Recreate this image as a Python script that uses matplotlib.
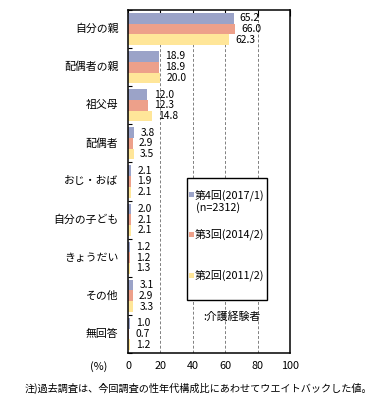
import matplotlib
matplotlib.use("Agg")
import matplotlib.pyplot as plt
from matplotlib.patches import Rectangle
import numpy as np

plt.rcParams['font.family'] = ['Noto Sans CJK JP', 'DejaVu Sans']

categories = ["自分の親", "配偶者の親", "祖父母", "配偶者", "おじ・おば",
              "自分の子ども", "きょうだい", "その他", "無回答"]
series_names = ["第4回(2017/1)", "第3回(2014/2)", "第2回(2011/2)"]
v2017 = [65.2, 18.9, 12.0, 3.8, 2.1, 2.0, 1.2, 3.1, 1.0]
v2014 = [66.0, 18.9, 12.3, 2.9, 1.9, 2.1, 1.2, 2.9, 0.7]
v2011 = [62.3, 20.0, 14.8, 3.5, 2.1, 2.1, 1.3, 3.3, 1.2]
xticks = [0, 20, 40, 60, 80, 100]
colors = ["#9BA3C8", "#EDA08A", "#FFE699"]

W, H = 372, 405
fig = plt.figure(figsize=(W / 100, H / 100), dpi=100)
ax = fig.add_axes([128 / W, 1 - 353 / H, 162 / W, 343 / H])

y = np.arange(len(categories))
bh = 0.28
for k, (vals, c) in enumerate(zip([v2017, v2014, v2011], colors)):
    pos = y + (k - 1) * bh
    ax.barh(pos, vals, height=bh, color=c, zorder=2)
    for p, v in zip(pos, vals):
        ax.annotate(f"{v:.1f}", xy=(v, p), xytext=(4.5, 0), textcoords="offset points",
                    va="center", ha="left", fontsize=7.4, zorder=3)

ax.set_xlim(0, 100)
ax.set_ylim(len(categories) - 0.5, -0.5)
ax.set_xticks(xticks)
ax.set_xticklabels([str(t) for t in xticks], fontsize=7.8)
ax.tick_params(axis="x", top=True, bottom=False, direction="in", length=4,
               labelbottom=True, pad=6, width=0.8)
ax.set_yticks(np.arange(len(categories) + 1) - 0.5)
ax.set_yticklabels([])
ax.tick_params(axis="y", direction="in", length=3, width=0.8)
for i, c in enumerate(categories):
    ax.text(-6, i, c, ha="right", va="center", fontsize=7.8)
for g in [20, 40, 60, 80]:
    ax.axvline(g, color="#808080", linestyle=(0, (3, 2)), linewidth=0.7, zorder=1)
for s in ax.spines.values():
    s.set_linewidth(1.1)
    s.set_color("black")

def fx(x):
    return x / W

def fy(yy):
    return 1 - yy / H

# legend box
fig.add_artist(Rectangle((fx(187), fy(300)), 80 / W, 122 / H, transform=fig.transFigure,
                         facecolor="white", edgecolor="black", linewidth=1.0, zorder=5))
for name, c, yy in zip(series_names, colors, [195, 234, 275]):
    fig.add_artist(Rectangle((fx(189), fy(yy + 2.5)), 5 / W, 5 / H, transform=fig.transFigure,
                             facecolor=c, edgecolor="none", zorder=6))
    fig.text(fx(195), fy(yy), name, fontsize=7.8, va="center", ha="left", zorder=6)
fig.text(fx(196), fy(208), "(n=2312)", fontsize=7.8, va="center", ha="left", zorder=6)
fig.text(fx(203), fy(317), ":介護経験者", fontsize=7.8, va="center", ha="left")

fig.text(fx(99), fy(367), "(%)", fontsize=7.8, va="center", ha="center")
fig.text(fx(25), fy(388), "注)過去調査は、今回調査の性年代構成比にあわせてウエイトバックした値。",
         fontsize=7.3, va="center", ha="left")

fig.savefig("out.png", dpi=100)
